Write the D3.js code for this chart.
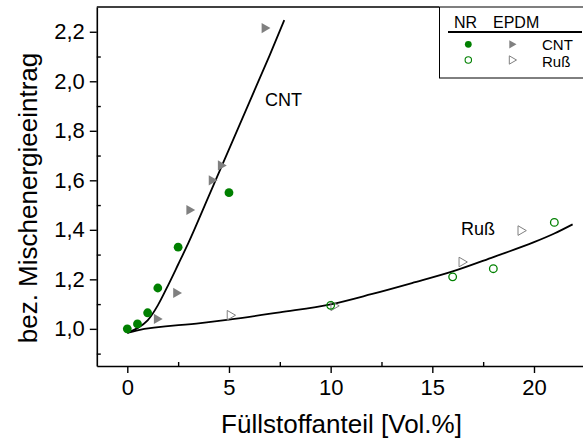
<!DOCTYPE html>
<html lang="de">
<head>
    <meta charset="UTF-8">
    <title>Mischenergieeintrag</title>
    <style>
        body { margin: 0; background: #fff; }
        svg { display: block; font-family: "Liberation Sans", Arial, sans-serif; }
    </style>
</head>
<body>
    <div class="chart"></div>

    <script src="https://d3js.org/d3.v7.min.js"></script>
    <script>
        var nrCntX = [0, 0.5, 1, 1.5, 2.5, 5]
        var nrCntY = [1.0, 1.02, 1.065, 1.165, 1.33, 1.55]
        var epdmCntX = [1.45, 2.4, 3.05, 4.15, 4.6, 6.75]
        var epdmCntY = [1.04, 1.145, 1.48, 1.6, 1.66, 2.215]
        var nrRussX = [10, 16, 18, 21]
        var nrRussY = [1.095, 1.21, 1.243, 1.43]
        var epdmRussX = [5.05, 10.15, 16.45, 19.35]
        var epdmRussY = [1.055, 1.093, 1.27, 1.397]

        // Ausgleichskurven
        var cntFitX = [0, 0.5, 1, 1.5, 2, 2.5, 3, 4, 5, 6, 7, 7.72]
        var cntFitY = [0.984, 1.003, 1.034, 1.095, 1.175, 1.26, 1.346, 1.535, 1.725, 1.915, 2.105, 2.247]
        var russFitX = [0, 0.45, 3.6, 5, 7.5, 10, 12, 14, 16, 18, 20, 21, 21.9]
        var russFitY = [0.984, 0.993, 1.023, 1.037, 1.067, 1.099, 1.14, 1.185, 1.232, 1.29, 1.35, 1.385, 1.422]

        var xTicks = [0, 5, 10, 15, 20]
        var xMinor = [2.5, 7.5, 12.5, 17.5]
        var yTicks = [1.0, 1.2, 1.4, 1.6, 1.8, 2.0, 2.2]
        var yMinor = [0.9, 1.1, 1.3, 1.5, 1.7, 1.9, 2.1]

        var width = 583
        var height = 439
        var green = "#008000"
        var grey = "#808080"

        var x = d3.scaleLinear().domain([-1.5, 23]).range([96.8, 595])
        var y = d3.scaleLinear().domain([0.85, 2.3]).range([366, 7])

        var fmt = function(d) { return d3.format(".1f")(d).replace(".", ",") }
        var zip = function(xs, ys) { return xs.map(function(v, i) { return [v, ys[i]] }) }

        var svg = d3.select(".chart").append("svg")
            .attr("width", width)
            .attr("height", height)

        // Achsen
        var gx = svg.append("g").attr("transform", "translate(0," + y(0.85) + ")")
        gx.call(d3.axisBottom(x).tickValues(xTicks).tickSizeInner(7).tickSizeOuter(0).tickPadding(6))
        gx.append("g").call(d3.axisBottom(x).tickValues(xMinor).tickSize(-4).tickFormat(""))
            .select(".domain").remove()

        var gy = svg.append("g").attr("transform", "translate(" + x(-1.5) + ",0)")
        gy.call(d3.axisLeft(y).tickValues(yTicks).tickSizeInner(7).tickSizeOuter(0).tickPadding(5).tickFormat(fmt))
        gy.append("g").call(d3.axisLeft(y).tickValues(yMinor).tickSize(-4).tickFormat(""))
            .select(".domain").remove()

        svg.selectAll(".domain").attr("stroke-width", 1.6)
        svg.selectAll(".tick line").attr("stroke-width", 1.4)
        svg.selectAll(".tick text")
            .attr("font-size", 22)
            .attr("font-family", "Liberation Sans, Arial, sans-serif")
            .attr("fill", "#000")

        // oberer Rahmen bis zur Legende
        svg.append("line")
            .attr("x1", x(-1.5)).attr("x2", 439)
            .attr("y1", y(2.3)).attr("y2", y(2.3))
            .attr("stroke", "#000").attr("stroke-width", 1.6)

        // Kurven
        var line = d3.line()
            .x(function(d) { return x(d[0]) })
            .y(function(d) { return y(d[1]) })
            .curve(d3.curveMonotoneX)

        svg.append("path").datum(zip(cntFitX, cntFitY))
            .attr("d", line).attr("fill", "none").attr("stroke", "#000").attr("stroke-width", 1.8)
        svg.append("path").datum(zip(russFitX, russFitY))
            .attr("d", line).attr("fill", "none").attr("stroke", "#000").attr("stroke-width", 1.8)

        var tri = d3.symbol().type(d3.symbolTriangle)

        // EPDM Ruß (offene Dreiecke)
        svg.selectAll(".epdmRuss").data(zip(epdmRussX, epdmRussY)).enter()
            .append("path")
            .attr("d", tri.size(40)())
            .attr("transform", function(d) { return "translate(" + x(d[0]) + "," + y(d[1]) + ") rotate(90)" })
            .attr("fill", "none").attr("stroke", grey).attr("stroke-width", 1)

        // NR Ruß (offene Kreise)
        svg.selectAll(".nrRuss").data(zip(nrRussX, nrRussY)).enter()
            .append("circle")
            .attr("cx", function(d) { return x(d[0]) })
            .attr("cy", function(d) { return y(d[1]) })
            .attr("r", 3.8)
            .attr("fill", "none").attr("stroke", green).attr("stroke-width", 1.3)

        // EPDM CNT (gefüllte Dreiecke)
        svg.selectAll(".epdmCnt").data(zip(epdmCntX, epdmCntY)).enter()
            .append("path")
            .attr("d", tri.size(45)())
            .attr("transform", function(d) { return "translate(" + x(d[0]) + "," + y(d[1]) + ") rotate(90)" })
            .attr("fill", grey)

        // NR CNT (gefüllte Kreise)
        svg.selectAll(".nrCnt").data(zip(nrCntX, nrCntY)).enter()
            .append("circle")
            .attr("cx", function(d) { return x(d[0]) })
            .attr("cy", function(d) { return y(d[1]) })
            .attr("r", 4.4)
            .attr("fill", green)

        // Beschriftungen
        svg.append("text").attr("x", 265).attr("y", 106).attr("font-size", 18).text("CNT")
        svg.append("text").attr("x", 461).attr("y", 235).attr("font-size", 18).text("Ruß")

        svg.append("text")
            .attr("x", 341.5).attr("y", 433)
            .attr("text-anchor", "middle").attr("font-size", 26)
            .text("Füllstoffanteil [Vol.%]")
        svg.append("text")
            .attr("transform", "translate(37,198) rotate(-90)")
            .attr("text-anchor", "middle").attr("font-size", 26)
            .text("bez. Mischenergieeintrag")

        // Legende
        var lg = svg.append("g")
        lg.append("rect")
            .attr("x", 439.5).attr("y", 7).attr("width", 200).attr("height", 71)
            .attr("fill", "#fff").attr("stroke", "#000").attr("stroke-width", 1)
        lg.append("text").attr("x", 454).attr("y", 28).attr("font-size", 16).text("NR")
        lg.append("text").attr("x", 493).attr("y", 28).attr("font-size", 16).text("EPDM")
        lg.append("line")
            .attr("x1", 448).attr("x2", 582).attr("y1", 32).attr("y2", 32)
            .attr("stroke", "#000").attr("stroke-width", 2)
        lg.append("circle").attr("cx", 468.3).attr("cy", 44.3).attr("r", 3.4).attr("fill", green)
        lg.append("path").attr("d", tri.size(30)())
            .attr("transform", "translate(511.7,44.3) rotate(90)").attr("fill", grey)
        lg.append("text").attr("x", 542).attr("y", 49.5).attr("font-size", 15).text("CNT")
        lg.append("circle").attr("cx", 468.3).attr("cy", 60).attr("r", 3.2)
            .attr("fill", "none").attr("stroke", green).attr("stroke-width", 1.1)
        lg.append("path").attr("d", tri.size(30)())
            .attr("transform", "translate(511.7,60) rotate(90)")
            .attr("fill", "none").attr("stroke", grey).attr("stroke-width", 1)
        lg.append("text").attr("x", 542).attr("y", 66.5).attr("font-size", 15).text("Ruß")
    </script>
</body>
</html>
